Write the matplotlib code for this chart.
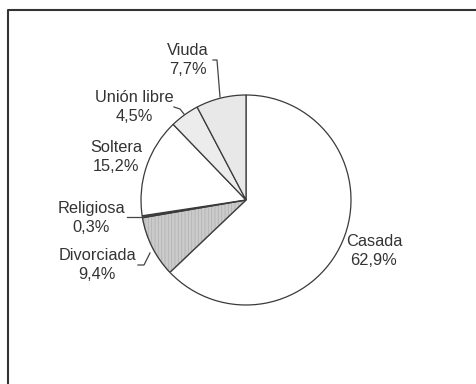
import matplotlib.pyplot as plt
from matplotlib.patches import Wedge

plt.rcParams['font.family'] = ['Liberation Sans', 'DejaVu Sans']
plt.rcParams['hatch.linewidth'] = 0.6

# Datos: estado civil (porcentajes)
categorias = ['Casada', 'Divorciada', 'Religiosa', 'Soltera', 'Unión libre', 'Viuda']
porcentajes = [62.9, 9.4, 0.3, 15.2, 4.5, 7.7]
etiquetas = ['62,9%', '9,4%', '0,3%', '15,2%', '4,5%', '7,7%']

colores = ['white', '#cbcbcb', '#555555', 'white', '#ececec', '#e8e8e8']
tramas = [None, '|||||', None, None, None, None]

fig = plt.figure(figsize=(4.77, 3.84), dpi=100)
ax = fig.add_axes([0, 0, 1, 1])

H = 384  # para pasar coordenadas de pixel (y hacia abajo)

wedges, _ = ax.pie(porcentajes, colors=colores, startangle=90, counterclock=False,
                   center=(246, H - 200), radius=105, frame=True,
                   wedgeprops=dict(edgecolor='#3a3a3a', linewidth=0.9))
for w, t in zip(wedges, tramas):
    if t:
        # trama suave: el borde claro pinta la trama, luego se repasa el contorno
        w.set_hatch(t)
        w.set_edgecolor('#b3b3b3')
        ax.add_patch(Wedge(w.center, w.r, w.theta1, w.theta2, fill=False,
                           edgecolor='#3a3a3a', linewidth=0.9))
ax.set_xlim(0, 477)
ax.set_ylim(0, 384)
ax.set_aspect('equal')
ax.axis('off')

# posiciones de las etiquetas (pixel)
pos = {
    'Casada': (374, 251),
    'Divorciada': (97, 265),
    'Religiosa': (91, 218),
    'Soltera': (116, 157),
    'Unión libre': (134, 107),
    'Viuda': (188, 60),
}
for cat, et in zip(categorias, etiquetas):
    x, y = pos[cat]
    ax.text(x, H - y, f'{cat}\n{et}', ha='center', va='center', fontsize=11.8,
            color='#333333', linespacing=1.35)

# lineas guia
guias = [
    [(213, 60), (217, 60), (220, 97)],
    [(174, 107), (180, 109), (184, 114)],
    [(127, 217), (143, 217)],
    [(138, 265), (144, 265), (150, 253)],
]
for g in guias:
    ax.plot([p[0] for p in g], [H - p[1] for p in g], color='#444444', lw=0.9)

# marco
ax.plot([8, 8, 480], [-5, H - 10, H - 10], color='#333333', lw=1.5)

fig.savefig('out.png', dpi=100)
